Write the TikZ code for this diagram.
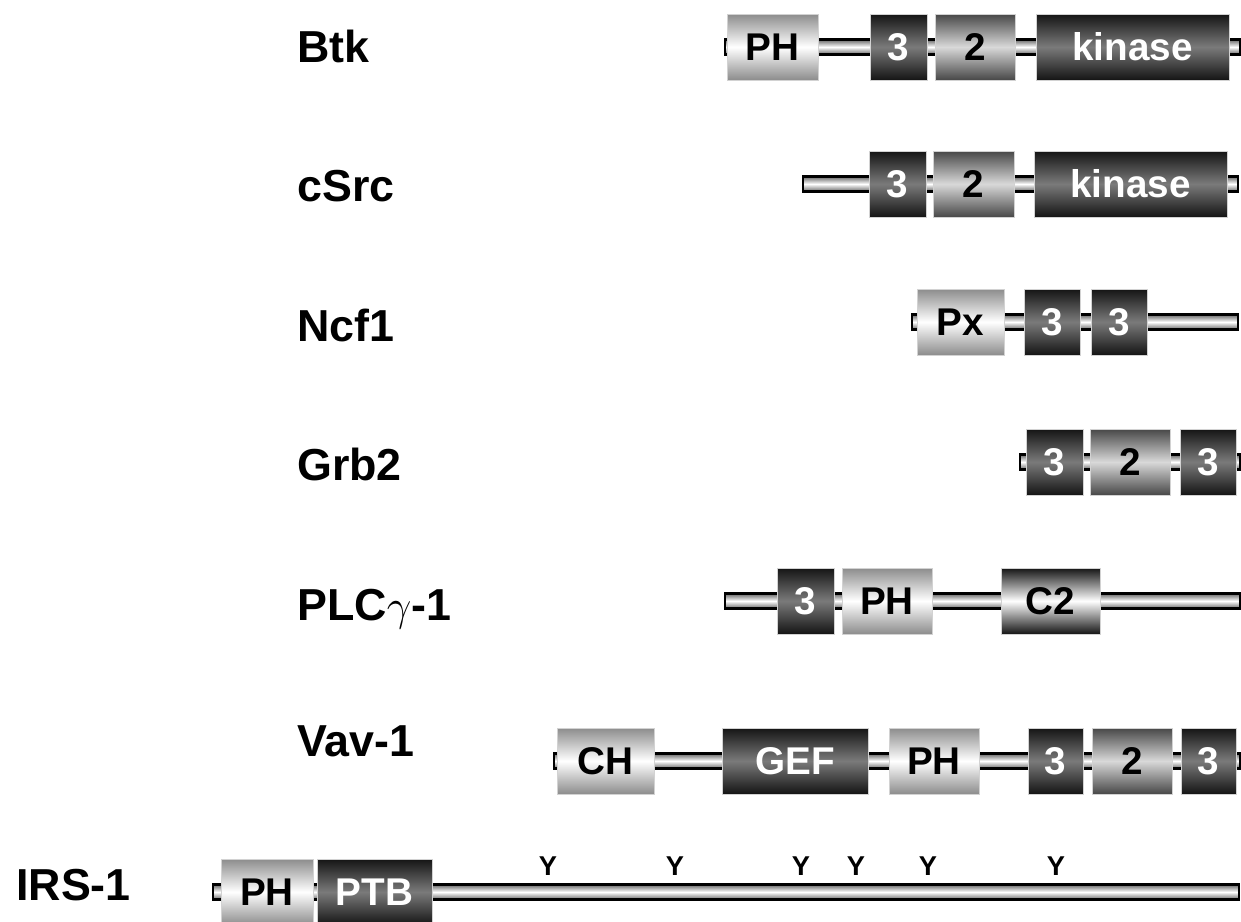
\documentclass[tikz,border=0pt]{standalone}
\usepackage{fontspec}
\setmainfont{Liberation Sans}
\usetikzlibrary{calc}

\begin{document}
\begin{tikzpicture}[x=0.02cm, y=-0.02cm,
  dom/.style={rectangle, inner sep=0pt, minimum height=1.32cm, draw=gray!35,
    line width=0.4pt, text height=15.7pt, text depth=0pt,
    font=\fontsize{22}{22}\selectfont\bfseries},
  dark/.style={dom, top color=black!92, bottom color=black!92,
    middle color=black!52, text=white},
  light/.style={dom, top color=black!45, bottom color=black!45, middle color=white},
  mid/.style={dom, top color=black!72, bottom color=black!72, middle color=black!15},
  cto/.style={dom, top color=black!92, bottom color=black!92, middle color=white},
  tube/.style={draw=black, line width=1.3pt, top color=black!60,
    bottom color=black!60, middle color=white},
  prot/.style={anchor=base west, font=\fontsize{25.5}{26}\selectfont\bfseries},
  tyr/.style={font=\fontsize{15.5}{15.5}\selectfont\bfseries}]
  \useasboundingbox (0,0) rectangle (1241,922);
  % protein names
  \node[prot] (lbtk) at (291,63)  {Btk};
  \node[prot] (lsrc) at (291,202) {cSrc};
  \node[prot] (lncf) at (291,341) {Ncf1};
  \node[prot] (lgrb) at (291,480) {Grb2};
  \node[prot] (lplc) at (291,620) {PLC$\gamma$-1};
  \node[prot] (lvav) at (291,756) {Vav-1};
  \node[prot] (lirs) at (10,900)  {IRS-1};
  % backbone of each protein
  \foreach \nm/\a/\b/\r in {btk/725/1240/47, src/803/1238/184, ncf/912/1238/322,
      grb/1020/1240/462, plc/725/1240/601, vav/554/1240/761, irs/213/1239/892} {
    \coordinate (\nm L) at (\a,\r);
    \coordinate (\nm R) at (\b,\r);
    \path[tube] ($(\nm L)+(0,-7.5)$) rectangle ($(\nm R)+(0,7.5)$);
  }
  % domains: name/left/right/row/style/label
  \foreach \nm/\a/\b/\r/\st/\txt in {
      btkPH/727/818/47/light/PH, btkSHa/870/927/47/dark/3,
      btkSHb/935/1015/47/mid/2, btkKin/1036/1229/47/dark/kinase,
      srcSHa/869/926/184/dark/3, srcSHb/933/1014/184/mid/2,
      srcKin/1034/1227/184/dark/kinase,
      ncfPX/917/1004/322/light/Px, ncfSHa/1024/1080/322/dark/3,
      ncfSHc/1091/1147/322/dark/3,
      grbSHa/1026/1083/462/dark/3, grbSHb/1090/1170/462/mid/2,
      grbSHc/1180/1236/462/dark/3,
      plcSHa/777/834/601/dark/3, plcPH/842/932/601/light/PH,
      plcCt/1001/1100/601/cto/C2,
      vavCH/557/654/761/light/CH, vavGEF/722/868/761/dark/GEF,
      vavPH/889/979/761/light/PH, vavSHa/1028/1083/761/dark/3,
      vavSHb/1092/1172/761/mid/2, vavSHc/1181/1236/761/dark/3,
      irsPH/221/313/892/light/PH, irsPTB/317/432/892/dark/PTB} {
    \pgfmathsetmacro\w{(\b-\a)*0.02}
    \node[\st, minimum width=\w cm] (\nm) at ({(\a+\b)/2},\r) {\txt};
  }
  % tyrosine sites on IRS-1
  \foreach \x [count=\i] in {548,675,801,856,928,1056}
    \node[tyr] (y\i) at (\x,866) {Y};
\end{tikzpicture}
\end{document}
